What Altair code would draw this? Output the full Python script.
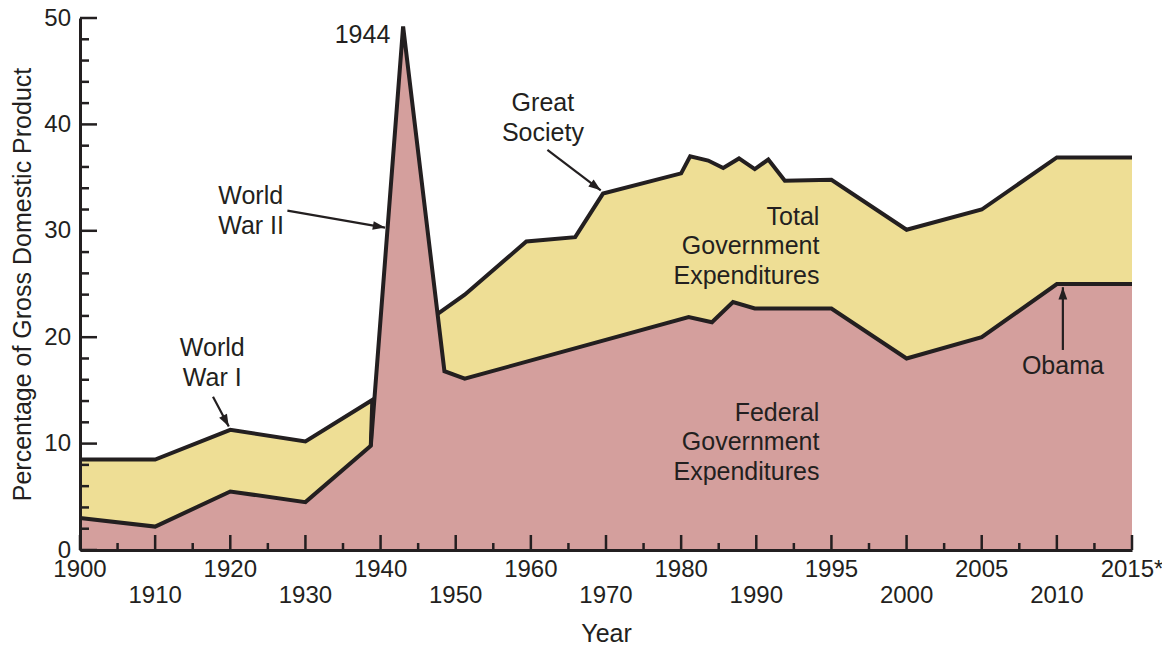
import altair as alt
import numpy as np
import pandas as pd

# ---------------- data ----------------
tick_years = [1900, 1910, 1920, 1930, 1940, 1950, 1960, 1970, 1980, 1990,
              1995, 2000, 2005, 2010, 2015]
tick_labels = ["1900", "1910", "1920", "1930", "1940", "1950", "1960", "1970",
               "1980", "1990", "1995", "2000", "2005", "2010", "2015*"]

total_years = [1900, 1910, 1920, 1930, 1938.9, 1947.6, 1951.2, 1959.4, 1965.9,
               1969.6, 1980.0, 1981.2, 1983.6, 1985.6, 1987.7, 1989.8, 1990.8,
               1991.9, 1995, 2000, 2005, 2010, 2015]
total_values = [8.5, 8.5, 11.3, 10.2, 14.1, 22.2, 24.0, 29.0, 29.4,
                33.5, 35.4, 37.0, 36.6, 35.9, 36.8, 35.8, 36.7,
                34.7, 34.8, 30.1, 32.0, 36.9, 36.9]

federal_years = [1900, 1910, 1920, 1930, 1938.7, 1943.0, 1948.5, 1951.2,
                 1981.0, 1984.1, 1986.9, 1989.8, 1995, 2000, 2005, 2010, 2015]
federal_values = [3.0, 2.2, 5.5, 4.5, 9.8, 49.2, 16.8, 16.1,
                  21.9, 21.4, 23.3, 22.7, 22.7, 18.0, 20.0, 25.0, 25.0]

y_major = [0, 10, 20, 30, 40, 50]
y_minor = [v for v in range(2, 50, 2) if v % 10 != 0]

ann_text = ["1944", "World\nWar II", "World\nWar I", "Great\nSociety",
            "Total\nGovernment\nExpenditures",
            "Federal\nGovernment\nExpenditures", "Obama"]
ann_year = [1941.3, 1918.4, 1917.6, 1961.6, 1994.2, 1994.2, 2010.4]
ann_value = [48.4, 33.27, 18.98, 42.0, 31.3, 12.88, 17.3]
ann_align = ["right", "left", "center", "center", "right", "right", "center"]

arrow_from_year = [1927.6, 1917.7, 1962.2, 2010.4]
arrow_from_value = [31.9, 14.4, 37.6, 18.8]
arrow_to_year = [1940.6, 1919.8, 1969.3, 2010.4]
arrow_to_value = [30.3, 11.6, 33.8, 24.7]

# ---------------- styling ----------------
W, H = 1052, 532
INK = "#231F20"
PINK = "#D49F9D"
YELLOW = "#EEDE95"
FONT = "Liberation Sans"
FS_TICK = 24
FS_TEXT = 25

idx = np.arange(len(tick_years))


def pos(years):
    return np.interp(years, tick_years, idx)


total_df = pd.DataFrame({"year": total_years, "value": total_values,
                         "pos": pos(total_years)})
fed_df = pd.DataFrame({"year": federal_years, "value": federal_values,
                       "pos": pos(federal_years)})

# outline of the total curve: broken during WWII where it merges with federal
segA_years = total_years[:5] + [federal_years[4]]
segA_vals = total_values[:5] + [federal_values[4]]
segB_years = total_years[5:]
segB_vals = total_values[5:]
tline_df = pd.DataFrame({
    "year": segA_years + segB_years,
    "value": segA_vals + segB_vals,
    "seg": ["A"] * len(segA_years) + ["B"] * len(segB_years),
    "seq": list(range(len(segA_years) + len(segB_years))),
})
tline_df["pos"] = pos(tline_df["year"])

xt_df = pd.DataFrame({"pos": idx, "label": tick_labels,
                      "row": [i % 2 for i in idx]})
xminor_df = pd.DataFrame({"pos": idx[:-1] + 0.5})
ymaj_df = pd.DataFrame({"value": y_major})
ymin_df = pd.DataFrame({"value": y_minor})

ann_df = pd.DataFrame({"text": ann_text, "pos": pos(ann_year),
                       "value": ann_value, "align": ann_align})

arr_df = pd.DataFrame({"pos": pos(arrow_from_year), "value": arrow_from_value,
                       "pos2": pos(arrow_to_year), "value2": arrow_to_value})
px_per_pos = W / (len(tick_years) - 1)
px_per_val = H / 50.0
dx = (arr_df["pos2"] - arr_df["pos"]) * px_per_pos
dy = -(arr_df["value2"] - arr_df["value"]) * px_per_val
arr_df["ang"] = (np.degrees(np.arctan2(dx, -dy)) + 360) % 360

# ---------------- encodings ----------------
xscale = alt.Scale(domain=[0, len(tick_years) - 1], nice=False, zero=False)
yscale = alt.Scale(domain=[0, 50], nice=False, zero=True)

xaxis = alt.Axis(labels=False, ticks=False, tickSize=0, domain=True,
                 domainColor=INK, domainWidth=3, grid=False, zindex=1,
                 title="Year", titleFont=FONT, titleFontSize=FS_TEXT,
                 titleFontWeight="normal", titleColor=INK,
                 titleY=83.5, titleBaseline="middle")
yaxis = alt.Axis(values=y_major, ticks=False, tickSize=0, domain=True,
                 domainColor=INK, domainWidth=3, grid=False, zindex=1,
                 labelFont=FONT, labelFontSize=FS_TICK, labelColor=INK,
                 labelPadding=9.5, labelBaseline="middle",
                 title="Percentage of Gross Domestic Product",
                 titleFont=FONT, titleFontSize=FS_TEXT, titleFontWeight="normal",
                 titleColor=INK, titleAngle=270, titleX=-58, titleY=H / 2,
                 titleAlign="center", titleBaseline="middle")


def X(field="pos"):
    return alt.X(f"{field}:Q", scale=xscale, axis=xaxis, title="Year")


def Y(field="value"):
    return alt.Y(f"{field}:Q", scale=yscale, axis=yaxis,
                 title="Percentage of Gross Domestic Product")


yellow = alt.Chart(total_df).mark_area(color=YELLOW, opacity=1).encode(x=X(), y=Y())
pink = alt.Chart(fed_df).mark_area(color=PINK, opacity=1).encode(x=X(), y=Y())

total_line = alt.Chart(tline_df).mark_line(
    color=INK, strokeWidth=4, strokeJoin="miter").encode(
    x=X(), y=Y(), detail="seg:N", order="seq:Q")
fed_line = alt.Chart(fed_df).mark_line(
    color=INK, strokeWidth=4, strokeJoin="miter").encode(x=X(), y=Y())

xmaj_ticks = alt.Chart(xt_df).mark_rule(color=INK, strokeWidth=2.5).encode(
    x=X(), y=alt.value(H), y2=alt.value(H - 15))
xmin_ticks = alt.Chart(xminor_df).mark_rule(color=INK, strokeWidth=2.5).encode(
    x=X(), y=alt.value(H), y2=alt.value(H - 7))
ymaj_ticks = alt.Chart(ymaj_df).mark_rule(color=INK, strokeWidth=2.5).encode(
    y=Y(), x=alt.value(0), x2=alt.value(17))
ymin_ticks = alt.Chart(ymin_df).mark_rule(color=INK, strokeWidth=2.5).encode(
    y=Y(), x=alt.value(0), x2=alt.value(9))

xlab_even = alt.Chart(xt_df).transform_filter("datum.row == 0").mark_text(
    font=FONT, fontSize=FS_TICK, color=INK, baseline="middle", align="center").encode(
    x=X(), y=alt.value(H + 19.5), text="label:N")
xlab_odd = alt.Chart(xt_df).transform_filter("datum.row == 1").mark_text(
    font=FONT, fontSize=FS_TICK, color=INK, baseline="middle", align="center").encode(
    x=X(), y=alt.value(H + 46), text="label:N")

ann_layers = []
for al in ["left", "center", "right"]:
    ann_layers.append(
        alt.Chart(ann_df).transform_filter(f"datum.align == '{al}'").mark_text(
            font=FONT, fontSize=FS_TEXT, color=INK, align=al, baseline="middle",
            lineBreak="\n", lineHeight=29.5).encode(
            x=X(), y=Y(), text="text:N"))

arrow_lines = alt.Chart(arr_df).mark_rule(color=INK, strokeWidth=2.2).encode(
    x=X(), y=Y(), x2="pos2:Q", y2="value2:Q")
arrow_heads = alt.Chart(arr_df).mark_point(
    shape="M0,0L-0.36,1L0.36,1Z", filled=True, color=INK, opacity=1,
    size=600, strokeWidth=0).encode(
    x=X("pos2"), y=Y("value2"), angle=alt.Angle("ang:Q", scale=None))

chart = alt.layer(
    yellow, pink, total_line, fed_line,
    xmaj_ticks, xmin_ticks, ymaj_ticks, ymin_ticks,
    xlab_even, xlab_odd, *ann_layers, arrow_lines, arrow_heads,
).properties(
    width=W, height=H,
    autosize=alt.AutoSizeParams(type="none"),
    padding={"left": 72, "top": 10, "right": 30, "bottom": 98},
    background="white",
).configure_view(stroke=None)

chart.save("out.html", embed_options={"renderer": "svg", "actions": False})
